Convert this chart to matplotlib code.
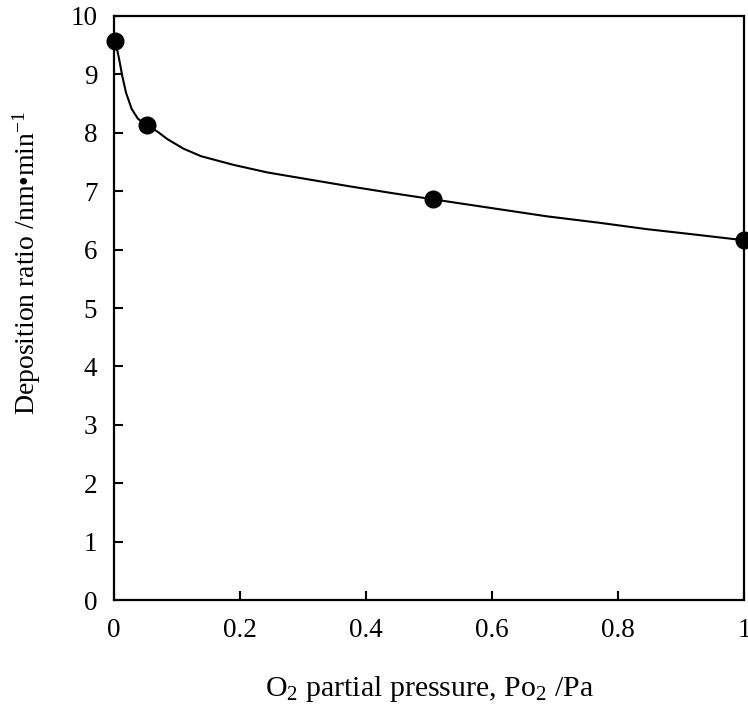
import matplotlib
matplotlib.use('Agg')
import matplotlib.pyplot as plt

plt.rcParams['font.family'] = 'Liberation Serif'
plt.rcParams['mathtext.fontset'] = 'custom'
plt.rcParams['mathtext.rm'] = 'Liberation Serif'
plt.rcParams['mathtext.it'] = 'Liberation Serif:italic'

# measured points
pressure = [0.002, 0.052, 0.507, 1.0]
rate = [9.58, 8.13, 6.86, 6.16]

# fitted curve
curve_x = [0.002, 0.008, 0.013, 0.019, 0.028, 0.038, 0.052, 0.069, 0.085, 0.11, 0.138, 0.19,
           0.244, 0.31, 0.376, 0.44, 0.507, 0.6, 0.687, 0.77, 0.846, 0.92, 1.0]
curve_y = [9.58, 9.27, 8.98, 8.69, 8.41, 8.24, 8.13, 8.02, 7.89, 7.73, 7.6, 7.45,
           7.32, 7.2, 7.08, 6.97, 6.86, 6.71, 6.57, 6.46, 6.35, 6.26, 6.16]

xticks = [0, 0.2, 0.4, 0.6, 0.8, 1.0]
xlabels = ['0', '0.2', '0.4', '0.6', '0.8', '1']
yticks = list(range(0, 11))

fig = plt.figure(figsize=(7.48, 7.11), dpi=100)
ax = fig.add_axes([0.1524, 0.1561, 0.8423, 0.8214])
ax.plot(curve_x, curve_y, color='black', lw=1.5, clip_on=False)
ax.plot(pressure, rate, 'o', color='black', ms=12, clip_on=False, zorder=5)

ax.set_xlim(0, 1)
ax.set_ylim(0, 10)
ax.set_xticks(xticks)
ax.set_xticklabels(xlabels)
ax.set_yticks(yticks)
ax.tick_params(direction='in', length=6.5, width=1.5, labelsize=19.5, pad=13)
ax.tick_params(axis='y', pad=12)
for s in ax.spines.values():
    s.set_linewidth(1.6)

ax.set_xlabel('O$_2$ partial pressure, Po$_2$ /Pa', fontsize=21.5)
ax.xaxis.set_label_coords(0.5, -0.127)
ax.set_ylabel('Deposition ratio /nm\u2022min$^{-1}$', fontsize=20)
ax.yaxis.set_label_coords(-0.113, 0.578)

fig.savefig('out.png', dpi=100)
